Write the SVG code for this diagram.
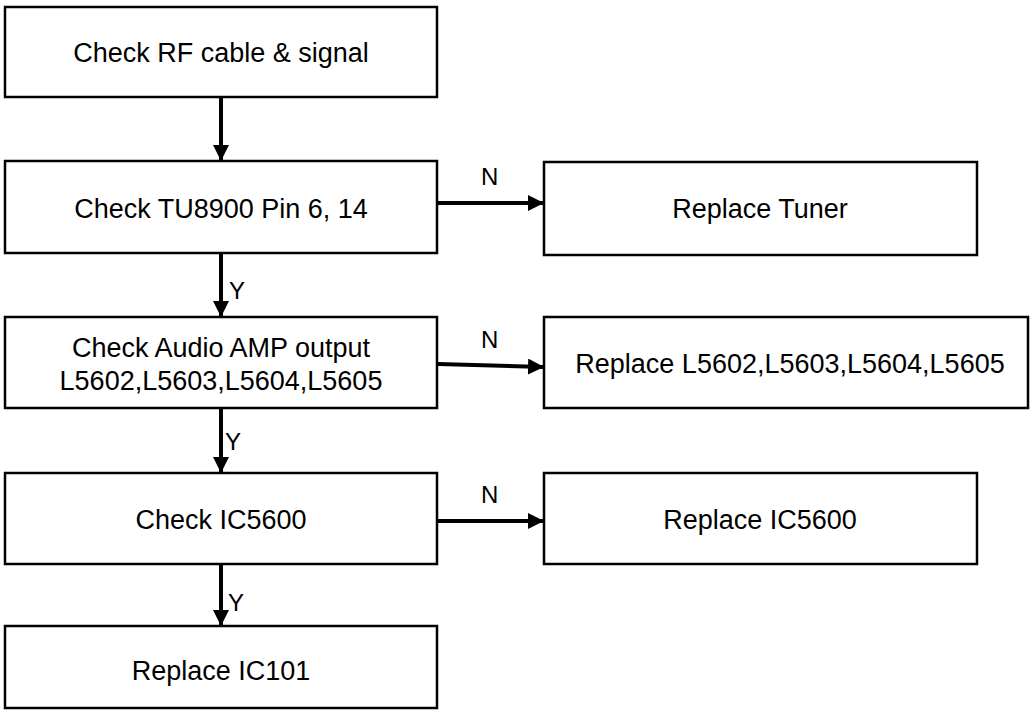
<svg xmlns="http://www.w3.org/2000/svg" width="1030" height="710" viewBox="0 0 1030 710">
<defs>
<style>
.box{fill:#fff;stroke:#000;stroke-width:2.5}
.t{font-family:"Liberation Sans",Arial,sans-serif;font-size:27px;fill:#000;text-anchor:middle}
.lbl{font-family:"Liberation Sans",Arial,sans-serif;font-size:24px;fill:#000}
.c{fill:none;stroke:#000;stroke-width:4}
</style>
<marker id="ah" markerWidth="4" markerHeight="4" refX="4" refY="2" orient="auto" markerUnits="strokeWidth">
<path d="M0,0 L4,2 L0,4 Z" fill="#000"/>
</marker>
</defs>
<rect width="1030" height="710" fill="#fff"/>
<g id="connectors">
<line class="c" x1="221" y1="97" x2="221" y2="161" marker-end="url(#ah)"/>
<line class="c" x1="438" y1="203" x2="544" y2="203" marker-end="url(#ah)"/>
<line class="c" x1="221" y1="253" x2="221" y2="317" marker-end="url(#ah)"/>
<text class="lbl" x="481" y="185">N</text>
<text class="lbl" x="229" y="299">Y</text>
<line class="c" x1="438" y1="364" x2="544" y2="367" marker-end="url(#ah)"/>
<line class="c" x1="221" y1="408" x2="221" y2="473" marker-end="url(#ah)"/>
<text class="lbl" x="481" y="348">N</text>
<text class="lbl" x="225" y="450">Y</text>
<line class="c" x1="438" y1="521" x2="544" y2="521" marker-end="url(#ah)"/>
<line class="c" x1="221" y1="564" x2="221" y2="626" marker-end="url(#ah)"/>
<text class="lbl" x="481" y="503">N</text>
<text class="lbl" x="228" y="611">Y</text>
</g>
<g id="n1"><rect class="box" x="5" y="7" width="432" height="90"/><text class="t" x="221" y="62">Check RF cable &amp; signal</text></g>
<g id="n2"><rect class="box" x="5" y="161" width="432" height="92"/><text class="t" x="221" y="218">Check TU8900 Pin 6, 14</text></g>
<g id="n3"><rect class="box" x="544" y="162" width="433" height="93"/><text class="t" x="760" y="218">Replace Tuner</text></g>
<g id="n4"><rect class="box" x="5" y="317" width="432" height="91"/><text class="t" x="221" y="357">Check Audio AMP output</text><text class="t" x="221" y="390">L5602,L5603,L5604,L5605</text></g>
<g id="n5"><rect class="box" x="544" y="317" width="484" height="91"/><text class="t" x="790" y="373">Replace L5602,L5603,L5604,L5605</text></g>
<g id="n6"><rect class="box" x="5" y="473" width="432" height="91"/><text class="t" x="221" y="529">Check IC5600</text></g>
<g id="n7"><rect class="box" x="544" y="473" width="433" height="91"/><text class="t" x="760" y="529">Replace IC5600</text></g>
<g id="n8"><rect class="box" x="5" y="626" width="432" height="82"/><text class="t" x="221" y="680">Replace IC101</text></g>
</svg>
